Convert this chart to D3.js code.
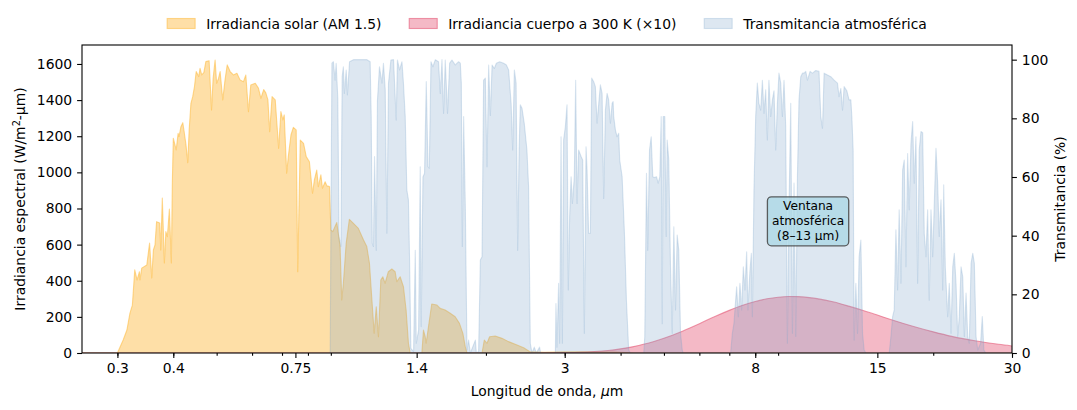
<!DOCTYPE html>
<html><head><meta charset="utf-8">
<script src="https://cdn.jsdelivr.net/npm/d3@7"></script>
<style>
body{margin:0;background:#fff}
svg{display:block}
text{font-family:"DejaVu Sans",sans-serif;fill:#000}
</style>
</head><body>
<svg id="chart" width="1077" height="410"></svg>
<script>
// ---------- DATA ----------
// [wavelength µm, spectral irradiance W/m²-µm]
const solar = [[0.25,0],[0.295,0],[0.300,0],[0.309,72],[0.315,127],[0.320,221],[0.324,265],[0.328,460],[0.332,404],[0.336,450],[0.337,404],[0.340,470],[0.349,487],[0.354,609],[0.358,415],[0.361,570],[0.364,598],[0.367,727],[0.373,720],[0.375,570],[0.378,858],[0.382,498],[0.385,672],[0.388,644],[0.392,797],[0.396,498],[0.398,940],[0.400,1189],[0.406,1124],[0.410,1216],[0.412,1198],[0.416,1253],[0.420,1275],[0.423,1225],[0.427,1152],[0.431,1054],[0.434,1235],[0.438,1382],[0.442,1419],[0.446,1474],[0.450,1558],[0.456,1530],[0.459,1576],[0.463,1539],[0.468,1552],[0.473,1613],[0.481,1618],[0.487,1345],[0.491,1521],[0.496,1622],[0.500,1493],[0.505,1521],[0.509,1558],[0.516,1401],[0.522,1512],[0.528,1595],[0.536,1558],[0.545,1539],[0.555,1548],[0.564,1512],[0.574,1502],[0.581,1539],[0.589,1336],[0.596,1484],[0.610,1493],[0.620,1466],[0.628,1410],[0.637,1458],[0.644,1440],[0.651,1401],[0.657,1225],[0.665,1419],[0.676,1401],[0.688,1133],[0.696,1336],[0.703,1290],[0.708,1318],[0.717,995],[0.723,1087],[0.733,1207],[0.742,1249],[0.753,1235],[0.759,450],[0.769,1179],[0.782,1161],[0.793,1087],[0.806,1059],[0.819,884],[0.827,958],[0.837,1013],[0.844,921],[0.855,986],[0.862,912],[0.874,948],[0.882,925],[0.894,921],[0.900,681],[0.909,672],[0.928,722],[0.944,589],[0.952,293],[0.960,386],[0.974,607],[0.990,740],[1.011,718],[1.037,690],[1.065,626],[1.083,589],[1.098,497],[1.112,293],[1.125,109],[1.137,256],[1.150,90],[1.164,404],[1.176,422],[1.190,386],[1.210,450],[1.232,465],[1.253,450],[1.264,395],[1.286,422],[1.308,367],[1.326,238],[1.342,54],[1.354,0],[1.438,0],[1.450,127],[1.463,90],[1.470,54],[1.488,146],[1.513,271],[1.553,266],[1.580,247],[1.621,238],[1.664,220],[1.707,201],[1.745,164],[1.776,109],[1.798,35],[1.814,0],[1.960,0],[1.983,72],[2.011,54],[2.038,90],[2.098,94],[2.171,81],[2.246,63],[2.347,44],[2.429,29],[2.513,6],[2.7,4],[3.0,6],[3.3,7],[3.6,6],[3.9,5],[4.1,3],[4.3,0],[30,0]];

// [wavelength µm, blackbody 300 K emissive power ×10, W/m²-µm]
const blackbody = [[0.25,0],[2.0,0],[2.5,0.2],[3.0,2],[3.25,4],[3.5,8],[3.75,14],[4.0,23],[4.25,34],[4.5,48],[4.75,64],[5.0,82],[5.5,121],[6.0,162],[6.5,202],[7.0,236],[7.5,264],[8.0,285],[8.5,300],[9.0,309],[9.5,313],[10.0,312],[11.0,301],[12.0,282],[13.0,258],[14.0,234],[15.0,210],[16.0,187],[18.0,148],[20.0,117],[22.0,92],[25.0,66],[28.0,48],[30.0,39]];

// [wavelength µm, atmospheric transmittance %]
const transmittance = [[0.897,0],[0.905,98.8],[0.912,99.3],[0.920,93],[0.925,98.8],[0.933,86.8],[0.939,39.7],[0.948,36.3],[0.954,94.2],[0.960,97.6],[0.965,88.5],[0.974,96.5],[0.980,88],[0.991,99.3],[1.011,100],[1.084,100],[1.102,99.3],[1.108,80.6],[1.114,37.4],[1.121,36.3],[1.127,67],[1.137,35],[1.144,86],[1.156,97.6],[1.171,92],[1.180,98.8],[1.191,89.7],[1.201,40.8],[1.211,92],[1.226,99.9],[1.243,100],[1.260,79.4],[1.268,99.9],[1.282,96.5],[1.298,99.3],[1.308,92],[1.320,80.6],[1.331,55.6],[1.342,52.2],[1.350,31.7],[1.359,1.6],[1.378,0.5],[1.390,35],[1.397,3.3],[1.414,7.8],[1.426,63.5],[1.433,9],[1.446,60],[1.458,61.3],[1.471,92.5],[1.484,63.5],[1.494,63],[1.507,99.3],[1.522,97.6],[1.541,100],[1.567,99.3],[1.581,88.5],[1.595,100],[1.608,81.7],[1.622,99.9],[1.641,81.7],[1.659,98.8],[1.679,99.9],[1.708,98.2],[1.737,99.3],[1.753,98.8],[1.762,92],[1.771,36.3],[1.783,80.6],[1.799,48.8],[1.814,1],[1.829,4.4],[1.846,0],[1.894,4.4],[1.904,0],[1.926,0.5],[1.943,31.7],[1.960,32.8],[1.976,93],[1.994,93.7],[2.011,63.5],[2.028,98.2],[2.046,81],[2.064,98.2],[2.088,97],[2.110,98.8],[2.147,99.3],[2.191,98.8],[2.222,98.2],[2.248,96.5],[2.277,85],[2.295,69.2],[2.315,96.5],[2.336,92],[2.355,35],[2.372,69.2],[2.387,84.6],[2.408,83.4],[2.436,78.3],[2.470,69.2],[2.491,56.7],[2.513,3.3],[2.535,0],[2.565,2],[2.592,0],[2.636,2],[2.650,0],[2.859,0],[2.868,16.9],[2.883,2],[2.907,23.8],[2.923,3.3],[2.944,73.7],[2.964,3.3],[2.983,72.6],[3.010,77.2],[3.036,84.6],[3.056,21.5],[3.077,46.5],[3.100,60.1],[3.121,51],[3.152,60.1],[3.174,93],[3.197,51],[3.223,69.2],[3.264,67],[3.291,65.8],[3.319,6.7],[3.348,70.3],[3.366,62.4],[3.393,40.8],[3.424,40.8],[3.447,93.7],[3.483,92.5],[3.513,90.8],[3.544,78.3],[3.580,86.3],[3.605,91.4],[3.637,88.5],[3.667,52.7],[3.699,82.8],[3.731,88.5],[3.762,86.3],[3.796,78.3],[3.829,85.1],[3.849,85.7],[3.861,80.6],[3.895,76],[3.929,73.7],[3.961,74.9],[3.982,65.8],[4.032,60.1],[4.080,40.8],[4.122,18],[4.170,1],[4.208,0],[4.507,0],[4.530,5.6],[4.570,61.3],[4.600,35],[4.642,69.2],[4.682,73.7],[4.721,60.1],[4.762,59.8],[4.812,60.1],[4.854,57.9],[4.895,60.1],[4.930,80.6],[4.956,10],[4.981,80.6],[5.022,80.6],[5.058,39.7],[5.084,72.6],[5.126,65.8],[5.172,29.4],[5.218,6.7],[5.261,43],[5.307,14.7],[5.353,40.2],[5.397,35],[5.446,6.7],[5.494,1],[5.520,0],[7.048,0],[7.110,6.7],[7.168,10],[7.269,22.6],[7.332,12.4],[7.394,23.8],[7.460,14.7],[7.524,29.4],[7.587,21.5],[7.654,34.5],[7.704,14.7],[7.786,28.3],[7.842,34],[7.883,12.4],[7.947,55.6],[8.018,80.6],[8.087,92],[8.153,85.1],[8.227,82.8],[8.300,93],[8.368,81.7],[8.442,89.7],[8.515,72.6],[8.584,93],[8.663,80.6],[8.739,86.3],[8.811,89.4],[8.889,69.2],[8.966,85.1],[9.039,95.4],[9.121,92],[9.201,80.6],[9.277,93],[9.359,77.2],[9.440,3.3],[9.517,48.8],[9.604,85.1],[9.688,6.7],[9.768,57.9],[9.855,5.6],[9.940,60],[10.021,86.3],[10.112,94.2],[10.201,95.4],[10.285,95.4],[10.376,96],[10.466,93],[10.609,96],[10.741,95.4],[10.925,96.3],[11.109,96],[11.211,80.6],[11.310,76.6],[11.403,95.4],[11.603,94.8],[11.804,94.2],[12.006,93],[12.217,92],[12.316,87.4],[12.429,90.2],[12.538,82.8],[12.642,90.8],[12.819,89.4],[12.968,86.3],[13.087,86.3],[13.155,80.6],[13.243,69.2],[13.311,4.4],[13.429,23.8],[13.545,6.7],[13.655,32.8],[13.779,38.5],[13.900,6.7],[14.015,1],[14.140,0],[15.945,0],[16.085,5.6],[16.227,12.4],[16.360,14.7],[16.505,42],[16.648,21.5],[16.783,48.8],[16.936,23.8],[17.085,62.4],[17.226,65.8],[17.378,29.4],[17.529,68],[17.671,48.8],[17.832,71.5],[17.989,78.9],[18.137,57.9],[18.297,73.7],[18.456,23.8],[18.606,69.2],[18.776,75.5],[18.941,75.1],[19.097,40.8],[19.266,32.8],[19.433,48.8],[19.591,18],[19.770,48.8],[19.944,32.8],[20.108,51],[20.286,69.8],[20.462,57.9],[20.628,39.7],[20.816,52.2],[20.999,21.5],[21.107,57.3],[21.282,29.4],[21.545,12.4],[21.719,23.8],[21.918,6.7],[22.111,29.4],[22.293,34],[22.490,23.8],[22.685,5.6],[22.869,12.4],[23.078,29.4],[23.281,26],[23.473,5.6],[23.680,20.4],[23.886,5.6],[24.080,3.3],[24.299,30.6],[24.513,34],[24.715,30.6],[24.933,5.6],[25.149,1],[25.520,3.3],[25.745,12.4],[25.956,1],[26.200,0],[30,0]];

const xMajorTicks = [0.3, 0.4, 0.75, 1.4, 3, 8, 15, 30];
const xMajorLabels = ["0.3", "0.4", "0.75", "1.4", "3", "8", "15", "30"];
const xMinorTicks = [0.3,0.4,0.5,0.6,0.7,0.8,0.9,2,3,4,5,6,7,8,9,20,30];
const yLeftTicks = [0, 200, 400, 600, 800, 1000, 1200, 1400, 1600];
const yRightTicks = [0, 20, 40, 60, 80, 100];
const legendLabels = ["Irradiancia solar (AM 1.5)", "Irradiancia cuerpo a 300 K (×10)", "Transmitancia atmosférica"];
const annotationLines = ["Ventana", "atmosférica", "(8–13 µm)"];
const annotationAt = [10.5, 45]; // wavelength, transmittance %

// ---------- LAYOUT / STYLE ----------
const W = 1077, H = 410;
const m = {left: 82, right: 65, top: 45, bottom: 57};
const fs = 13.9;
const styles = {
  solar: {fill: "rgb(253,185,60)", fo: 0.45, so: 0.55},
  body:  {fill: "rgb(228,88,118)", fo: 0.42, so: 0.6},
  trans: {fill: "rgb(120,160,200)", fo: 0.25, so: 0.28}
};

const svg = d3.select("#chart");
const x = d3.scaleLog().domain([0.25, 30]).range([m.left, W - m.right]);
const yL = d3.scaleLinear().domain([0, 1705]).range([H - m.bottom, m.top]);
const yR = d3.scaleLinear().domain([0, 105]).range([H - m.bottom, m.top]);

svg.append("defs").append("clipPath").attr("id","clip")
  .append("rect").attr("x", m.left).attr("y", m.top)
  .attr("width", W - m.left - m.right).attr("height", H - m.top - m.bottom);

const plot = svg.append("g").attr("clip-path","url(#clip)");

function drawSeries(data, yS, st, curve) {
  const area = d3.area().x(d => x(d[0])).y0(yS(0)).y1(d => yS(d[1])).curve(curve);
  const line = d3.line().x(d => x(d[0])).y(d => yS(d[1])).curve(curve);
  plot.append("path").attr("d", area(data)).attr("fill", st.fill).attr("fill-opacity", st.fo).attr("stroke","none");
  plot.append("path").attr("d", line(data)).attr("fill","none").attr("stroke", st.fill)
      .attr("stroke-opacity", st.so).attr("stroke-width", 1.1).attr("stroke-linejoin","round");
}
drawSeries(solar, yL, styles.solar, d3.curveLinear);
drawSeries(blackbody, yL, styles.body, d3.curveMonotoneX);
drawSeries(transmittance, yR, styles.trans, d3.curveLinear);

// ---------- AXES ----------
const axisStyle = g => {
  g.selectAll("path.domain").remove();
  g.selectAll("line").attr("stroke","#000").attr("stroke-width",1.1);
  g.selectAll("text").attr("font-size", fs + "px").attr("font-family","DejaVu Sans, sans-serif").attr("fill","#000");
};
svg.append("g").attr("transform",`translate(0,${H - m.bottom})`)
  .call(d3.axisBottom(x).tickValues(xMinorTicks).tickSize(2.8).tickFormat(""))
  .call(axisStyle);
svg.append("g").attr("transform",`translate(0,${H - m.bottom})`)
  .call(d3.axisBottom(x).tickValues(xMajorTicks).tickSize(4.9).tickPadding(4.9)
        .tickFormat((d,i) => xMajorLabels[i]))
  .call(axisStyle);
svg.append("g").attr("transform",`translate(${m.left},0)`)
  .call(d3.axisLeft(yL).tickValues(yLeftTicks).tickSize(4.9).tickPadding(4.9).tickFormat(d3.format("d")))
  .call(axisStyle);
svg.append("g").attr("transform",`translate(${W - m.right},0)`)
  .call(d3.axisRight(yR).tickValues(yRightTicks).tickSize(4.9).tickPadding(4.9).tickFormat(d3.format("d")))
  .call(axisStyle);

// frame
svg.append("rect").attr("x", m.left).attr("y", m.top)
  .attr("width", W - m.left - m.right).attr("height", H - m.top - m.bottom)
  .attr("fill","none").attr("stroke","#000").attr("stroke-width",1.1);

// ---------- LABELS ----------
const xl = svg.append("text").attr("x", (m.left + W - m.right)/2).attr("y", 396)
  .attr("text-anchor","middle").attr("font-size", fs + "px");
xl.append("tspan").text("Longitud de onda, ");
xl.append("tspan").attr("font-style","italic").text("µ");
xl.append("tspan").text("m");

const ylab = svg.append("text").attr("transform",`translate(25,${(m.top + H - m.bottom)/2}) rotate(-90)`)
  .attr("text-anchor","middle").attr("font-size", fs + "px");
ylab.append("tspan").text("Irradiancia espectral (W/m");
ylab.append("tspan").attr("font-size", (fs*0.7) + "px").attr("dy", -5).text("2");
ylab.append("tspan").attr("dy", 5).text("-µm)");

svg.append("text").attr("transform",`translate(1065,${(m.top + H - m.bottom)/2}) rotate(-90)`)
  .attr("text-anchor","middle").attr("font-size", fs + "px").text("Transmitancia (%)");

// ---------- ANNOTATION ----------
const ax = x(annotationAt[0]), ay = yR(annotationAt[1]);
const ann = svg.append("g");
const annText = ann.append("text").attr("text-anchor","middle").attr("font-size","12.2px");
annotationLines.forEach((t, i) => {
  annText.append("tspan").attr("x", ax).attr("y", ay + (i - 1) * 15 + 4.3).text(t);
});
const bb = annText.node().getBBox();
ann.insert("rect","text")
  .attr("x", bb.x - 4.5).attr("y", bb.y - 2.5)
  .attr("width", bb.width + 9).attr("height", bb.height + 5)
  .attr("rx", 4).attr("ry", 4)
  .attr("fill", "rgb(173,216,230)").attr("fill-opacity", 0.8)
  .attr("stroke", "#444").attr("stroke-opacity", 0.85).attr("stroke-width", 1.3);

// ---------- LEGEND ----------
const legend = svg.append("g");
const legStyles = [styles.solar, styles.body, styles.trans];
let cx = 0;
legendLabels.forEach((lab, i) => {
  const g = legend.append("g");
  g.append("rect").attr("x", 0).attr("y", -5).attr("width", 28).attr("height", 10)
    .attr("fill", legStyles[i].fill).attr("fill-opacity", legStyles[i].fo)
    .attr("stroke", legStyles[i].fill).attr("stroke-opacity", legStyles[i].so).attr("stroke-width", 1.1);
  const t = g.append("text").attr("x", 39).attr("y", 5).attr("font-size", fs + "px").text(lab);
  const w = 39 + t.node().getComputedTextLength();
  g.attr("transform", `translate(${cx},0)`);
  cx += w + 27.8;
});
const totalW = cx - 27.8;
legend.attr("transform", `translate(${(m.left + W - m.right)/2 - totalW/2},23.5)`);
</script>
</body></html>
